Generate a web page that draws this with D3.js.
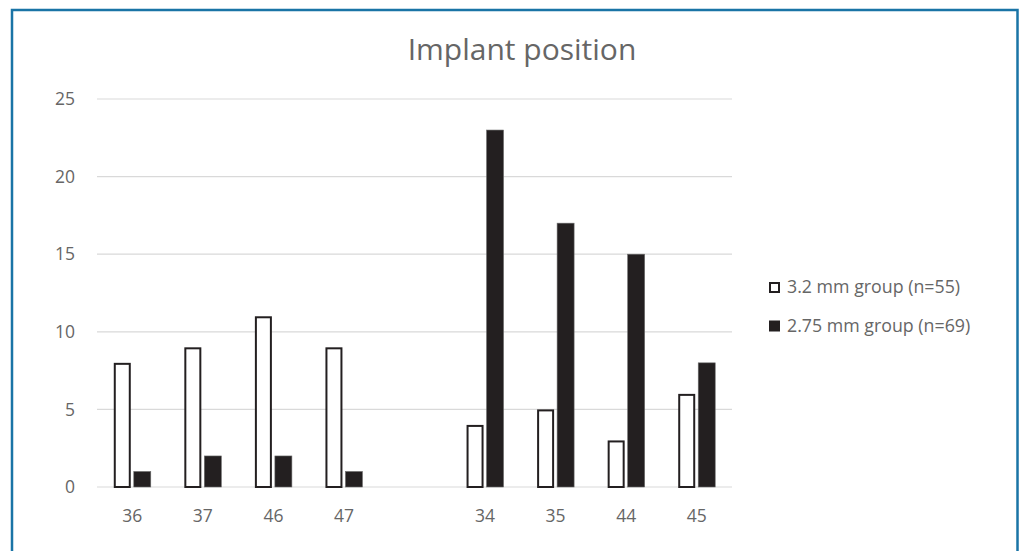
<!DOCTYPE html>
<html>
<head>
<meta charset="utf-8">
<script src="https://cdn.jsdelivr.net/npm/d3@7"></script>
<style>
  body { margin: 0; background: #fff; }
  svg { display: block; font-family: "Open Sans", sans-serif; }
</style>
</head>
<body>
<div id="chart"></div>
<script>
// data
var positions = ["36", "37", "46", "47", "", "34", "35", "44", "45"];
var group32 = [8, 9, 11, 9, null, 4, 5, 3, 6];
var group275 = [1, 2, 2, 1, null, 23, 17, 15, 8];
var seriesNames = ["3.2 mm group (n=55)", "2.75 mm group (n=69)"];
var yTicks = [0, 5, 10, 15, 20, 25];

var W = 1019, H = 551;
var margin = { top: 99, right: 287, bottom: 64, left: 97 },
    width = W - margin.left - margin.right,
    height = H - margin.top - margin.bottom;

var root = d3.select("#chart")
    .append("svg")
    .attr("width", W)
    .attr("height", H);

// frame
root.append("rect")
    .attr("x", 12).attr("y", 10)
    .attr("width", 1005.5).attr("height", 550)
    .attr("fill", "none")
    .attr("stroke", "#1a74a6")
    .attr("stroke-width", 2.5);

var svg = root.append("g")
    .attr("transform", "translate(" + margin.left + "," + margin.top + ")");

var slots = positions.map(function (d, i) { return i; });

var x = d3.scaleBand()
    .domain(slots)
    .range([0, width]);

var barW = 17, gap = 3;

var y = d3.scaleLinear()
    .domain([0, 25])
    .range([height, 0]);

// gridlines
svg.append("g")
    .selectAll("line")
    .data(yTicks)
    .join("line")
    .attr("x1", 0).attr("x2", width)
    .attr("y1", function (d) { return y(d); })
    .attr("y2", function (d) { return y(d); })
    .attr("stroke", "#d9d9d9")
    .attr("stroke-width", 1.2);

// y labels
svg.append("g")
    .selectAll("text")
    .data(yTicks)
    .join("text")
    .attr("x", -22)
    .attr("y", function (d) { return y(d); })
    .attr("dy", "0.35em")
    .attr("text-anchor", "end")
    .attr("fill", "#666")
    .style("font-size", "17.5px")
    .text(function (d) { return d; });

// x labels
svg.append("g")
    .selectAll("text")
    .data(slots)
    .join("text")
    .attr("x", function (d) { return x(d) + x.bandwidth() / 2; })
    .attr("y", height + 35)
    .attr("text-anchor", "middle")
    .attr("fill", "#666")
    .style("font-size", "17.5px")
    .text(function (d) { return positions[d]; });

// 3.2 mm bars (white)
svg.append("g")
    .selectAll("rect")
    .data(slots.filter(function (i) { return group32[i] != null; }))
    .join("rect")
    .attr("x", function (i) { return x(i) + x.bandwidth() / 2 - gap / 2 - barW + 1; })
    .attr("y", function (i) { return y(group32[i]) + 1; })
    .attr("width", barW - 2)
    .attr("height", function (i) { return height - y(group32[i]) - 1; })
    .attr("fill", "#fff")
    .attr("stroke", "#231f20")
    .attr("stroke-width", 2);

// 2.75 mm bars (black)
svg.append("g")
    .selectAll("rect")
    .data(slots.filter(function (i) { return group275[i] != null; }))
    .join("rect")
    .attr("x", function (i) { return x(i) + x.bandwidth() / 2 + gap / 2; })
    .attr("y", function (i) { return y(group275[i]); })
    .attr("width", barW)
    .attr("height", function (i) { return height - y(group275[i]); })
    .attr("fill", "#231f20")
    .attr("stroke", "#6d6d6d")
    .attr("stroke-width", 0.6);

// title
root.append("text")
    .attr("x", 522)
    .attr("y", 60)
    .attr("text-anchor", "middle")
    .attr("fill", "#666")
    .style("font-size", "30px")
    .text("Implant position");

// legend
var legend = root.append("g")
    .attr("transform", "translate(769, 287)");

seriesNames.forEach(function (name, i) {
    var g = legend.append("g").attr("transform", "translate(0," + (i * 38.5) + ")");
    if (i === 0) {
        g.append("rect")
            .attr("x", 1).attr("y", -4)
            .attr("width", 9).attr("height", 9)
            .attr("fill", "#fff")
            .attr("stroke", "#231f20")
            .attr("stroke-width", 2);
    } else {
        g.append("rect")
            .attr("x", 0).attr("y", -5)
            .attr("width", 11).attr("height", 11)
            .attr("fill", "#231f20");
    }
    g.append("text")
        .attr("x", 18)
        .attr("y", 0)
        .attr("dy", "0.35em")
        .attr("fill", "#666")
        .style("font-size", "17.8px")
        .text(name);
});
</script>
</body>
</html>
